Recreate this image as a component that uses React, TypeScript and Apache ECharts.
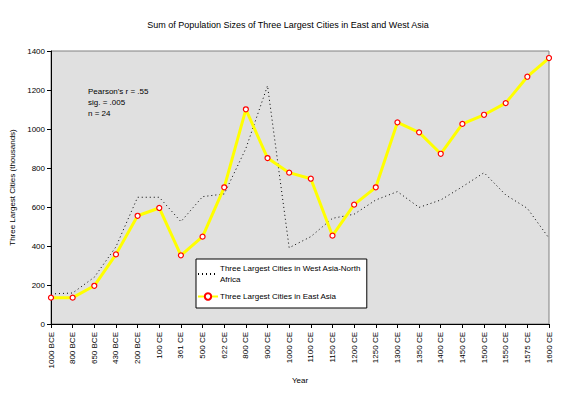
import React, { useEffect, useRef } from "react";
import * as echarts from "echarts";

const years = [
  "1000 BCE", "800 BCE", "650 BCE", "430 BCE", "200 BCE", "100 CE", "361 CE", "500 CE",
  "622 CE", "800 CE", "900 CE", "1000 CE", "1100 CE", "1150 CE", "1200 CE", "1250 CE",
  "1300 CE", "1350 CE", "1400 CE", "1450 CE", "1500 CE", "1550 CE", "1575 CE", "1600 CE",
];
const westAsia = [154, 159, 240, 396, 650, 650, 525, 653, 667, 900, 1222, 391, 448, 542, 563, 636, 679, 598, 636, 704, 776, 662, 593, 440];
const eastAsia = [135, 135, 196, 357, 555, 595, 352, 448, 701, 1101, 851, 776, 745, 453, 612, 701, 1034, 983, 873, 1026, 1073, 1133, 1268, 1364];
const westName = "Three Largest Cities in West Asia-North Africa";
const eastName = "Three Largest Cities in East Asia";
const yTicks = [0, 200, 400, 600, 800, 1000, 1200, 1400];

const FONT = "Liberation Sans, Arial, sans-serif";

export default function App() {
  const ref = useRef<HTMLDivElement>(null);
  useEffect(() => {
    if (!ref.current) return;
    const chart = echarts.init(ref.current, null, { renderer: "svg" });
    chart.setOption({
      animation: false,
      backgroundColor: "#ffffff",
      textStyle: { fontFamily: FONT },
      title: {
        text: "Sum of Population Sizes of Three Largest Cities in East and West Asia",
        left: "center",
        top: 15,
        textStyle: { fontSize: 9, fontWeight: "normal", color: "#000", fontFamily: FONT },
      },
      grid: {
        left: 51, right: 27, top: 51, bottom: 70,
        show: true, backgroundColor: "#e0e0e0", borderColor: "#808080", borderWidth: 1,
      },
      legend: {
        orient: "vertical",
        left: 196,
        top: 259,
        backgroundColor: "#ffffff",
        borderColor: "#000",
        borderWidth: 1,
        padding: [4, 6, 6, 1],
        itemGap: 6,
        itemWidth: 20,
        itemHeight: 8,
        data: [
          { name: westName, itemStyle: { opacity: 0 } },
          { name: eastName },
        ],
        formatter: (n: string) => (n === westName ? "Three Largest Cities in West Asia-North\nAfrica" : n),
        textStyle: { fontSize: 8, color: "#000", fontFamily: FONT, lineHeight: 11, padding: [0, 0, 0, -3] },
      },
      xAxis: {
        type: "category",
        data: years,
        boundaryGap: false,
        name: "Year",
        nameLocation: "middle",
        nameGap: 50,
        nameTextStyle: { fontSize: 8, color: "#000" },
        axisLine: { lineStyle: { color: "#000", width: 1 } },
        axisTick: { show: true, length: 4, lineStyle: { color: "#000" }, alignWithLabel: true },
        axisLabel: { rotate: 90, fontSize: 8, color: "#000", margin: 8, interval: 0 },
        splitLine: { show: false },
      },
      yAxis: {
        type: "value",
        min: 0,
        max: 1400,
        interval: 200,
        name: "Three Largest Cities (thousands)",
        nameLocation: "middle",
        nameGap: 29,
        nameTextStyle: { fontSize: 8, color: "#000" },
        axisLine: { show: true, lineStyle: { color: "#000", width: 1 } },
        axisTick: { show: true, length: 4, lineStyle: { color: "#000" } },
        axisLabel: {
          fontSize: 8, color: "#000", margin: 6,
          formatter: (v: number) => (yTicks.includes(v) ? String(v) : ""),
        },
        splitLine: { show: false },
      },
      graphic: [
        {
          type: "text",
          left: 88,
          top: 86,
          style: {
            text: "Pearson's r = .55\nsig. = .005\nn = 24",
            fontSize: 8,
            lineHeight: 11,
            fill: "#000",
            fontFamily: FONT,
          },
        },
      ],
      series: [
        {
          name: westName,
          type: "line",
          data: westAsia,
          showSymbol: false,
          symbol: "none",
          lineStyle: { color: "#000", width: 1, type: [1, 3] },
          itemStyle: { color: "#000" },
          z: 2,
        },
        {
          name: eastName,
          type: "line",
          data: eastAsia,
          symbol: "circle",
          symbolSize: 5,
          lineStyle: { color: "#ffff00", width: 3 },
          itemStyle: { color: "#ffffff", borderColor: "#ff0000", borderWidth: 1.2 },
          z: 3,
        },
      ],
    });
    return () => chart.dispose();
  }, []);
  return <div ref={ref} style={{ width: 576, height: 394, margin: -8 }} />;
}
